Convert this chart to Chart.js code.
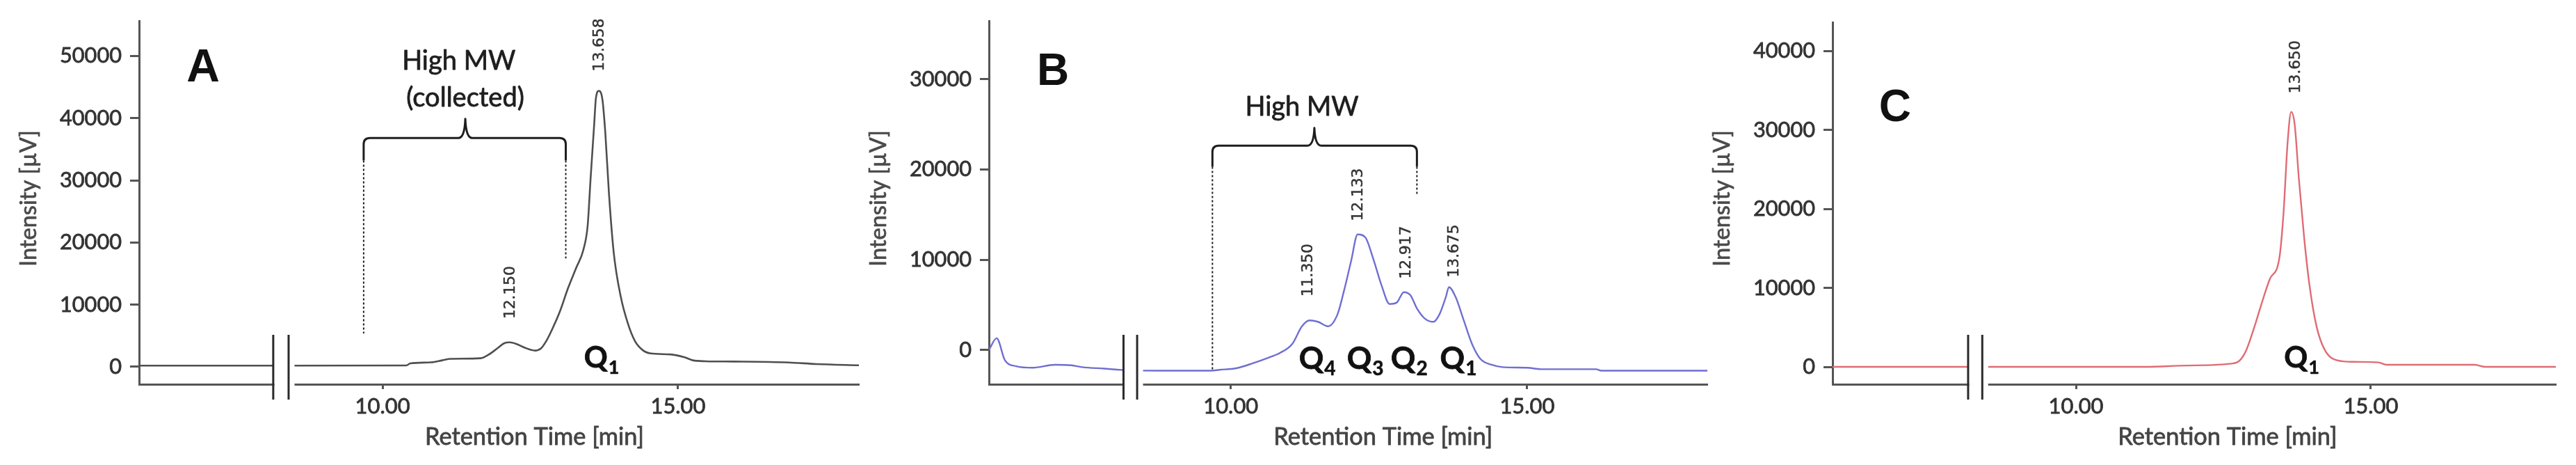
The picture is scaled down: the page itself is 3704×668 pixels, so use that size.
<!DOCTYPE html>
<html>
<head>
<meta charset="utf-8">
<script src="https://cdn.jsdelivr.net/npm/chart.js@4/dist/chart.umd.min.js"></script>
<style>
html,body{margin:0;padding:0;background:#fff;}
#wrap{position:relative;width:3704px;height:668px;overflow:hidden;background:#fff;}
canvas{position:absolute;top:0;}
</style>
</head>
<body>
<div id="wrap">
<canvas id="cA" width="1240" height="668" style="left:0px"></canvas>
<canvas id="cB" width="1220" height="668" style="left:1240px"></canvas>
<canvas id="cC" width="1244" height="668" style="left:2460px"></canvas>
</div>
<script>
// ---------------- DATA ----------------
// Panel A (grey trace)
const timeA = [5.88, 8.15, 8.28, 8.41, 10.40, 10.47, 10.82, 11.01, 11.15, 11.66, 11.80, 11.94, 12.06, 12.15, 12.26, 12.40, 12.58, 12.68, 12.77, 12.87, 13.00, 13.14, 13.28, 13.40, 13.47, 13.52, 13.58, 13.61, 13.66, 13.72, 13.77, 13.83, 13.91, 14.03, 14.15, 14.27, 14.40, 14.54, 14.87, 15.11, 15.25, 15.47, 15.94, 16.87, 17.34, 18.06];
const intensityA = [200, 200, null, 200, 220, 560, 720, 1050, 1290, 1390, 2000, 2960, 3800, 3950, 3700, 3100, 2620, 2960, 4150, 6050, 8900, 12700, 16000, 18900, 22700, 30300, 38900, 43200, 44400, 43000, 37500, 28000, 18500, 11300, 7000, 4150, 2700, 2150, 2000, 1530, 1050, 900, 850, 700, 450, 250];

// Panel B (blue trace)
const timeB = [5.92, 6.05, 6.19, 6.38, 6.66, 7.03, 7.31, 7.49, 7.86, 8.19, 8.30, 8.42, 9.67, 9.81, 10.09, 10.37, 10.65, 10.83, 11.04, 11.20, 11.33, 11.47, 11.64, 11.80, 11.91, 12.03, 12.14, 12.27, 12.40, 12.54, 12.68, 12.80, 12.92, 13.03, 13.14, 13.28, 13.42, 13.52, 13.63, 13.68, 13.79, 13.93, 14.07, 14.21, 14.40, 14.58, 15.00, 15.23, 16.16, 16.25, 18.04];
const intensityB = [0, 1300, -1150, -1800, -1970, -1640, -1700, -1900, -2070, -2230, null, -2290, -2300, -2200, -2030, -1480, -820, -330, 700, 2620, 3280, 3120, 2620, 3940, 6560, 9850, 12800, 12470, 10170, 7220, 5090, 5250, 6400, 6070, 4600, 3440, 3120, 3940, 5910, 6960, 5910, 3280, 660, -980, -1640, -1900, -1970, -2130, -2130, -2300, -2300];

// Panel C (red trace)
const timeC = [5.87, 8.17, 8.29, 8.41, 11.17, 11.87, 12.66, 12.78, 12.89, 13.03, 13.17, 13.29, 13.45, 13.52, 13.59, 13.65, 13.71, 13.78, 13.87, 13.96, 14.08, 14.22, 14.43, 14.71, 15.13, 15.27, 16.76, 16.95, 18.14];
const intensityC = [0, 0, null, 0, 0, 170, 430, 830, 2150, 5150, 8530, 11160, 13790, 19430, 28440, 32300, 30700, 23900, 16400, 10400, 5150, 2150, 830, 640, 565, 265, 265, 0, 0];

// Tick values / labels
const xTickValues = [10, 15];
const xTickLabels = ['10.00', '15.00'];
const yTicksA = [0, 10000, 20000, 30000, 40000, 50000];
const yTicksB = [0, 10000, 20000, 30000];
const yTicksC = [0, 10000, 20000, 30000, 40000];

// Peak labels (retention times printed on the peaks)
const peakLabelsA = ['12.150', '13.658'];
const peakLabelsB = ['11.350', '12.133', '12.917', '13.675'];
const peakLabelsC = ['13.650'];

// Fraction labels (Q subscripts)
const fractionsA = ['1'];
const fractionsB = ['4', '3', '2', '1'];
const fractionsC = ['1'];

const xTitle = 'Retention Time [min]';
const yTitle = 'Intensity [µV]';

// ---------------- STYLE / LAYOUT ----------------
const SANS = 'Lato, "Open Sans", sans-serif';
const PEAKF = '"DejaVu Sans", Verdana, sans-serif';
const LETTERF = '"Liberation Sans", Arial, sans-serif';

const mctx = document.createElement('canvas').getContext('2d');
function fitSize(text, family, weight, target) {
  mctx.font = weight + ' 100px ' + family;
  return Math.round(1000 * target / mctx.measureText(text).width) / 10;
}
const SZ = {
  ytick: fitSize('50000', SANS, 'normal', 89),
  xtick: fitSize('10.00', SANS, 'normal', 79),
  xtitle: fitSize(xTitle, SANS, 'normal', 315),
  ytitle: fitSize(yTitle, SANS, 'normal', 196),
  high: fitSize('High MW', SANS, 'normal', 163),
  peak: fitSize('13.658', PEAKF, 'normal', 76)
};

const panels = [
  {
    id: 'cA', time: timeA, intensity: intensityA, color: '#4f4f4f', lineWidth: 2.6,
    xMin: 5.88, xMax: 18.06, yMin: -2800, yMax: 55600, yTicks: yTicksA,
    yAxisWidth: 200, padTop: 30, padRight: 5,
    letter: { text: 'A', t: 6.965, v: 47990, size: 66 },
    breakAt: [8.15, 8.41],
    bracket: { left: 9.68, right: 13.10, mid: 11.40, top: 36800, tip: 39900, solidL: 33200, solidR: 33200, dashL: 5370, dashR: 17450 },
    bracketText: [{ text: 'High MW', t: 11.29, v: 49200 }, { text: '(collected)', t: 11.40, v: 43290 }],
    peaks: peakLabelsA, peakPos: [[12.17, 7720], [13.67, 47540]],
    fractions: fractionsA, fracPos: [[13.41, -100]], fracSize: 42
  },
  {
    id: 'cB', time: timeB, intensity: intensityB, color: '#6f6fd2', lineWidth: 2.4,
    xMin: 5.92, xMax: 18.04, yMin: -3800, yMax: 36420, yTicks: yTicksB,
    yAxisWidth: 182, padTop: 30, padRight: 5,
    letter: { text: 'B', t: 7.0, v: 30720, size: 64 },
    breakAt: [8.19, 8.42],
    bracket: { left: 9.69, right: 13.14, mid: 11.41, top: 22630, tip: 24600, solidL: 20300, solidR: 20300, dashL: -2280, dashR: 17060 },
    bracketText: [{ text: 'High MW', t: 11.20, v: 26940 }],
    peaks: peakLabelsB, peakPos: [[11.31, 5910], [12.16, 14280], [12.96, 7880], [13.77, 8040]],
    fractions: fractionsB, fracPos: [[11.15, -2100], [11.96, -2100], [12.70, -2100], [13.53, -2100]], fracSize: 44
  },
  {
    id: 'cC', time: timeC, intensity: intensityC, color: '#e06b74', lineWidth: 2.4,
    xMin: 5.87, xMax: 18.14, yMin: -2200, yMax: 43650, yTicks: yTicksC,
    yAxisWidth: 175, padTop: 32, padRight: 29,
    letter: { text: 'C', t: 6.93, v: 32715, size: 64 },
    breakAt: [8.17, 8.41],
    bracket: null, bracketText: [],
    peaks: peakLabelsC, peakPos: [[13.73, 34640]],
    fractions: fractionsC, fracPos: [[13.53, -90]], fracSize: 42
  }
];

function drawText(ctx, text, x, y, stroke) {
  if (stroke) {
    ctx.lineWidth = stroke;
    ctx.strokeStyle = ctx.fillStyle;
    ctx.strokeText(text, x, y);
  }
  ctx.fillText(text, x, y);
}

function decoPlugin(p) {
  return {
    id: 'deco' + p.id,
    afterDatasetsDraw(chart) {
      const ctx = chart.ctx, ca = chart.chartArea;
      const xs = chart.scales.x, ys = chart.scales.y;
      const X = t => xs.getPixelForValue(t), Y = v => ys.getPixelForValue(v);
      ctx.save();
      // axis break
      const b1 = X(p.breakAt[0]), b2 = X(p.breakAt[1]);
      ctx.fillStyle = '#ffffff';
      ctx.fillRect(b1 + 1.5, ca.top, b2 - b1 + 7, ca.bottom - ca.top + 3);
      ctx.strokeStyle = '#2a2a2a';
      ctx.lineWidth = 3;
      ctx.beginPath();
      [b1, b2].forEach(bx => { ctx.moveTo(bx, ca.bottom - 71); ctx.lineTo(bx, ca.bottom + 22); });
      ctx.stroke();

      // bracket
      if (p.bracket) {
        const b = p.bracket;
        const L = X(b.left), R = X(b.right), M = X(b.mid), H = Y(b.top), T = Y(b.tip);
        const r = 9;
        ctx.strokeStyle = '#1e1e1e';
        ctx.lineWidth = 3;
        ctx.lineJoin = 'round';
        ctx.beginPath();
        ctx.moveTo(L, Y(b.solidL));
        ctx.lineTo(L, H + r);
        ctx.quadraticCurveTo(L, H, L + r, H);
        ctx.lineTo(M - 10, H);
        ctx.quadraticCurveTo(M - 1, H, M, T);
        ctx.quadraticCurveTo(M + 1, H, M + 10, H);
        ctx.lineTo(R - r, H);
        ctx.quadraticCurveTo(R, H, R, H + r);
        ctx.lineTo(R, Y(b.solidR));
        ctx.stroke();
        ctx.setLineDash([3, 3]);
        ctx.lineWidth = 2;
        ctx.beginPath();
        ctx.moveTo(L, Y(b.solidL)); ctx.lineTo(L, Y(b.dashL));
        ctx.moveTo(R, Y(b.solidR)); ctx.lineTo(R, Y(b.dashR));
        ctx.stroke();
        ctx.setLineDash([]);
      }
      ctx.lineJoin = 'round';
      // bracket texts
      ctx.fillStyle = '#1e1e1e';
      ctx.textAlign = 'center';
      ctx.textBaseline = 'middle';
      ctx.font = 'normal ' + SZ.high + 'px ' + SANS;
      p.bracketText.forEach(o => drawText(ctx, o.text, X(o.t), Y(o.v), 0.8));

      // panel letter
      ctx.font = 'bold ' + p.letter.size + 'px ' + LETTERF;
      ctx.fillStyle = '#111';
      ctx.fillText(p.letter.text, X(p.letter.t), Y(p.letter.v));

      // peak labels (rotated)
      ctx.font = 'normal ' + SZ.peak + 'px ' + PEAKF;
      ctx.fillStyle = '#333';
      p.peaks.forEach((lab, i) => {
        const [t, v] = p.peakPos[i];
        ctx.save();
        ctx.translate(X(t), Y(v));
        ctx.rotate(-Math.PI / 2);
        ctx.textAlign = 'left';
        ctx.textBaseline = 'middle';
        drawText(ctx, lab, 0, 0, 0.5);
        ctx.restore();
      });

      // fraction labels Q with subscript
      p.fractions.forEach((sub, i) => {
        const [t, v] = p.fracPos[i];
        const x0 = X(t), y0 = Y(v);
        ctx.textAlign = 'left';
        ctx.textBaseline = 'alphabetic';
        ctx.fillStyle = '#111';
        ctx.font = 'bold ' + p.fracSize + 'px ' + SANS;
        drawText(ctx, 'Q', x0, y0, 0.8);
        const w = ctx.measureText('Q').width;
        ctx.font = 'bold ' + Math.round(p.fracSize * 0.64) + 'px ' + SANS;
        drawText(ctx, sub, x0 + w + 1, y0 + 9, 0.6);
      });

      // axis titles
      ctx.fillStyle = '#444';
      ctx.font = 'normal ' + SZ.xtitle + 'px ' + SANS;
      ctx.textAlign = 'center';
      ctx.textBaseline = 'middle';
      drawText(ctx, xTitle, X(12.57), ca.bottom + 76, 0.8);
      ctx.save();
      ctx.translate(ca.left - 159, 285);
      ctx.rotate(-Math.PI / 2);
      ctx.fillStyle = '#4a4a4a';
      ctx.font = 'normal ' + SZ.ytitle + 'px ' + SANS;
      drawText(ctx, yTitle, 0, 0, 0.7);
      ctx.restore();
      ctx.restore();
    }
  };
}

panels.forEach(p => {
  const pts = p.time.map((t, i) => ({ x: t, y: p.intensity[i] }));
  new Chart(document.getElementById(p.id), {
    type: 'line',
    data: {
      datasets: [{
        data: pts,
        borderColor: p.color,
        borderWidth: p.lineWidth,
        pointRadius: 0,
        fill: false,
        spanGaps: false,
        cubicInterpolationMode: 'monotone'
      }]
    },
    options: {
      responsive: false,
      animation: false,
      devicePixelRatio: 1,
      layout: { padding: { left: 0, right: p.padRight, top: p.padTop, bottom: 0 } },
      plugins: { legend: { display: false }, tooltip: { enabled: false }, title: { display: false } },
      scales: {
        x: {
          type: 'linear', min: p.xMin, max: p.xMax,
          afterBuildTicks: s => { s.ticks = xTickValues.map(v => ({ value: v })); },
          afterFit: s => { s.height = 668 - 552; },
          ticks: {
            callback: v => xTickLabels[xTickValues.indexOf(v)],
            font: { family: SANS, size: SZ.xtick }, color: '#333',
            textStrokeColor: '#333', textStrokeWidth: 0.8,
            padding: 6, maxRotation: 0, autoSkip: false
          },
          grid: { drawOnChartArea: false, drawTicks: true, tickLength: 7, tickWidth: 3, tickColor: '#555' },
          border: { display: true, color: '#555', width: 3 }
        },
        y: {
          type: 'linear', min: p.yMin, max: p.yMax,
          afterBuildTicks: s => { s.ticks = p.yTicks.map(v => ({ value: v })); },
          afterFit: s => { s.width = p.yAxisWidth; },
          ticks: {
            callback: v => String(v),
            font: { family: SANS, size: SZ.ytick }, color: '#333',
            textStrokeColor: '#333', textStrokeWidth: 0.8,
            padding: 12
          },
          grid: { drawOnChartArea: false, drawTicks: true, tickLength: 13, tickWidth: 3, tickColor: '#555' },
          border: { display: true, color: '#555', width: 3 }
        }
      }
    },
    plugins: [decoPlugin(p)]
  });
});
</script>
</body>
</html>
